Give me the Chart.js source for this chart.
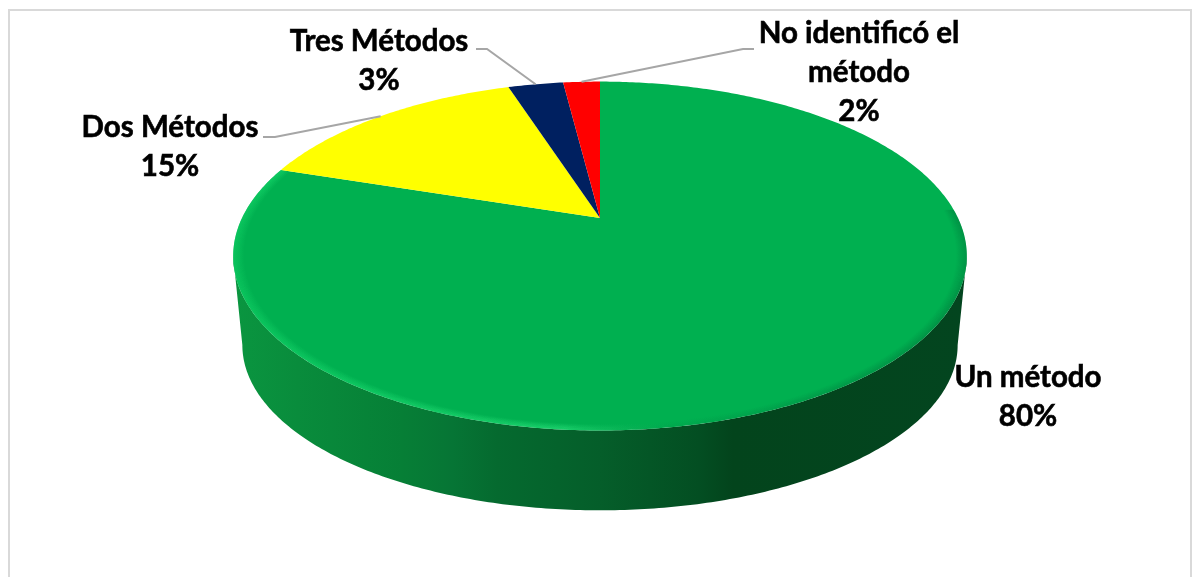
<!DOCTYPE html>
<html>
<head>
<meta charset="utf-8">
<style>
  html, body { margin: 0; padding: 0; background: #fff; }
  #wrap { position: relative; width: 1192px; height: 577px; }
</style>
<script src="https://cdn.jsdelivr.net/npm/chart.js@4/dist/chart.umd.min.js"></script>
</head>
<body>
<div id="wrap"><canvas id="myChart" width="1192" height="577"></canvas></div>
<script>
// data
var categories = [['Un método'], ['Dos Métodos'], ['Tres Métodos'], ['No identificó el', 'método']];
var percentages = [80, 15, 3, 2];
var sliceColors = ['#00B050', '#FFFF00', '#002060', '#FF0000'];

// label placement: centre x, first baseline, and the elbow of the leader line
var labelBoxes = [
  { x: 1028, y: 387 },
  { x: 170, y: 137, lineFrom: [263, 137], elbow: [275, 137] },
  { x: 379, y: 51, lineFrom: [476, 49], elbow: [487, 49] },
  { x: 859, y: 43, lineFrom: [754, 49], elbow: [743, 49] }
];

// tilted disc: top face and the (slightly smaller) bottom rim
var persp = 0.218;
var squash = 165.7 / 357;
var bottomScale = 0.975;
var bottomDrop = 91;
var bottomSquash = 157 / 348;

function project(el, a, layer) {
  var u = Math.cos(a), v = -Math.sin(a);
  var w = 1 + persp * v;
  var r = el.outerRadius;
  if (layer === 'bottom') {
    return [el.x + r * bottomScale * u / w, el.y + bottomDrop - r * bottomScale * bottomSquash * v / w];
  }
  var s = layer || 1;
  return [el.x + r * s * u / w, el.y + r * s * (squash * -v) / w];
}

function traceArc(ctx, el, a0, a1, layer, first) {
  var n = Math.max(2, Math.ceil(Math.abs(a1 - a0) * 90));
  for (var i = 0; i <= n; i++) {
    var p = project(el, a0 + (a1 - a0) * i / n, layer);
    if (i === 0 && first) ctx.moveTo(p[0], p[1]);
    else ctx.lineTo(p[0], p[1]);
  }
}

class Arc3D extends Chart.ArcElement {
  draw(ctx) {
    var start = this.startAngle, end = this.endAngle;
    var edge = Math.asin(persp);
    var from = Math.max(start, edge), to = Math.min(end, Math.PI - edge);
    ctx.save();

    // side wall, only where this slice faces the viewer
    if (from < to) {
      var left = this.x - this.outerRadius * 1.03, right = this.x + this.outerRadius * 1.03;
      var side = ctx.createLinearGradient(left, 0, right, 0);
      side.addColorStop(0, '#0A9640');
      side.addColorStop(0.09, '#098C3C');
      side.addColorStop(0.23, '#067F36');
      side.addColorStop(0.3, '#067535');
      side.addColorStop(0.36, '#056A2F');
      side.addColorStop(0.5, '#055E2A');
      side.addColorStop(0.635, '#034E22');
      side.addColorStop(0.68, '#03441C');
      side.addColorStop(1, '#03451F');
      ctx.beginPath();
      traceArc(ctx, this, from, to, 1, true);
      traceArc(ctx, this, to, from, 'bottom', false);
      ctx.closePath();
      ctx.fillStyle = side;
      ctx.fill();
    }

    // top face
    ctx.beginPath();
    ctx.moveTo(this.x, this.y);
    traceArc(ctx, this, start, end, 1, false);
    ctx.closePath();
    ctx.fillStyle = this.options.backgroundColor;
    ctx.fill();

    // bevel along the lit and shaded rim of the big slice
    if (end - start > Math.PI) {
      ctx.clip();
      var rim = ctx.createLinearGradient(this.x - this.outerRadius, 0, this.x + this.outerRadius, 0);
      rim.addColorStop(0, 'rgba(20,215,105,0.8)');
      rim.addColorStop(0.12, 'rgba(30,225,115,0.55)');
      rim.addColorStop(0.45, 'rgba(50,235,130,0.55)');
      rim.addColorStop(0.6, 'rgba(0,150,70,0.25)');
      rim.addColorStop(0.85, 'rgba(0,110,55,0.4)');
      rim.addColorStop(1, 'rgba(0,100,50,0.55)');
      ctx.strokeStyle = rim;
      var steps = 10;
      for (var i = 0; i < steps; i++) {
        ctx.globalAlpha = 0.5 * (1 - i / steps);
        ctx.lineWidth = 1.6;
        ctx.beginPath();
        traceArc(ctx, this, -0.05, end, 1 - i * 0.003, true);
        ctx.stroke();
      }
    }
    ctx.restore();
  }
}
Arc3D.id = 'arc3d';
Arc3D.defaults = Chart.ArcElement.defaults;
Arc3D.defaultRoutes = Chart.ArcElement.defaultRoutes;

class Pie3DController extends Chart.PieController {}
Pie3DController.id = 'pie3d';
Pie3DController.defaults = Object.assign({}, Chart.PieController.defaults, { dataElementType: 'arc3d' });
Pie3DController.overrides = Chart.PieController.overrides;
Chart.register(Arc3D, Pie3DController);

var chartFrame = {
  id: 'chartFrame',
  beforeDraw: function(chart) {
    var ctx = chart.ctx;
    ctx.save();
    ctx.strokeStyle = '#D9D9D9';
    ctx.lineWidth = 2;
    ctx.beginPath();
    ctx.moveTo(9, 577);
    ctx.lineTo(9, 10);
    ctx.lineTo(1191, 10);
    ctx.lineTo(1191, 577);
    ctx.stroke();
    ctx.restore();
  }
};

var sliceLabels = {
  id: 'sliceLabels',
  afterDatasetsDraw: function(chart) {
    var ctx = chart.ctx;
    var arcs = chart.getDatasetMeta(0).data;
    ctx.save();
    ctx.font = 'bold 29.5px Lato';
    ctx.fillStyle = '#000';
    ctx.textAlign = 'center';
    ctx.textBaseline = 'alphabetic';
    arcs.forEach(function(el, i) {
      var box = labelBoxes[i];
      if (box.lineFrom) {
        var end = project(el, (el.startAngle + el.endAngle) / 2, 1);
        ctx.strokeStyle = '#A6A6A6';
        ctx.lineWidth = 2;
        ctx.beginPath();
        ctx.moveTo(box.lineFrom[0], box.lineFrom[1]);
        ctx.lineTo(box.elbow[0], box.elbow[1]);
        ctx.lineTo(end[0], end[1]);
        ctx.stroke();
      }
      var lines = categories[i].concat([percentages[i] + '%']);
      lines.forEach(function(text, k) {
        // Lato bold is a bit lighter than the original face, so thicken it
        ctx.strokeStyle = '#000';
        ctx.lineWidth = 0.6;
        ctx.strokeText(text, box.x, box.y + k * 39);
        ctx.fillText(text, box.x, box.y + k * 39);
      });
    });
    ctx.restore();
  }
};

new Chart(document.getElementById('myChart').getContext('2d'), {
  type: 'pie3d',
  data: {
    labels: categories,
    datasets: [{
      data: percentages,
      backgroundColor: sliceColors,
      borderWidth: 0
    }]
  },
  options: {
    responsive: false,
    animation: false,
    events: [],
    radius: 358,
    layout: { padding: { left: 8, bottom: 141 } },
    plugins: { legend: { display: false }, tooltip: { enabled: false } }
  },
  plugins: [chartFrame, sliceLabels]
});
</script>
</body>
</html>
